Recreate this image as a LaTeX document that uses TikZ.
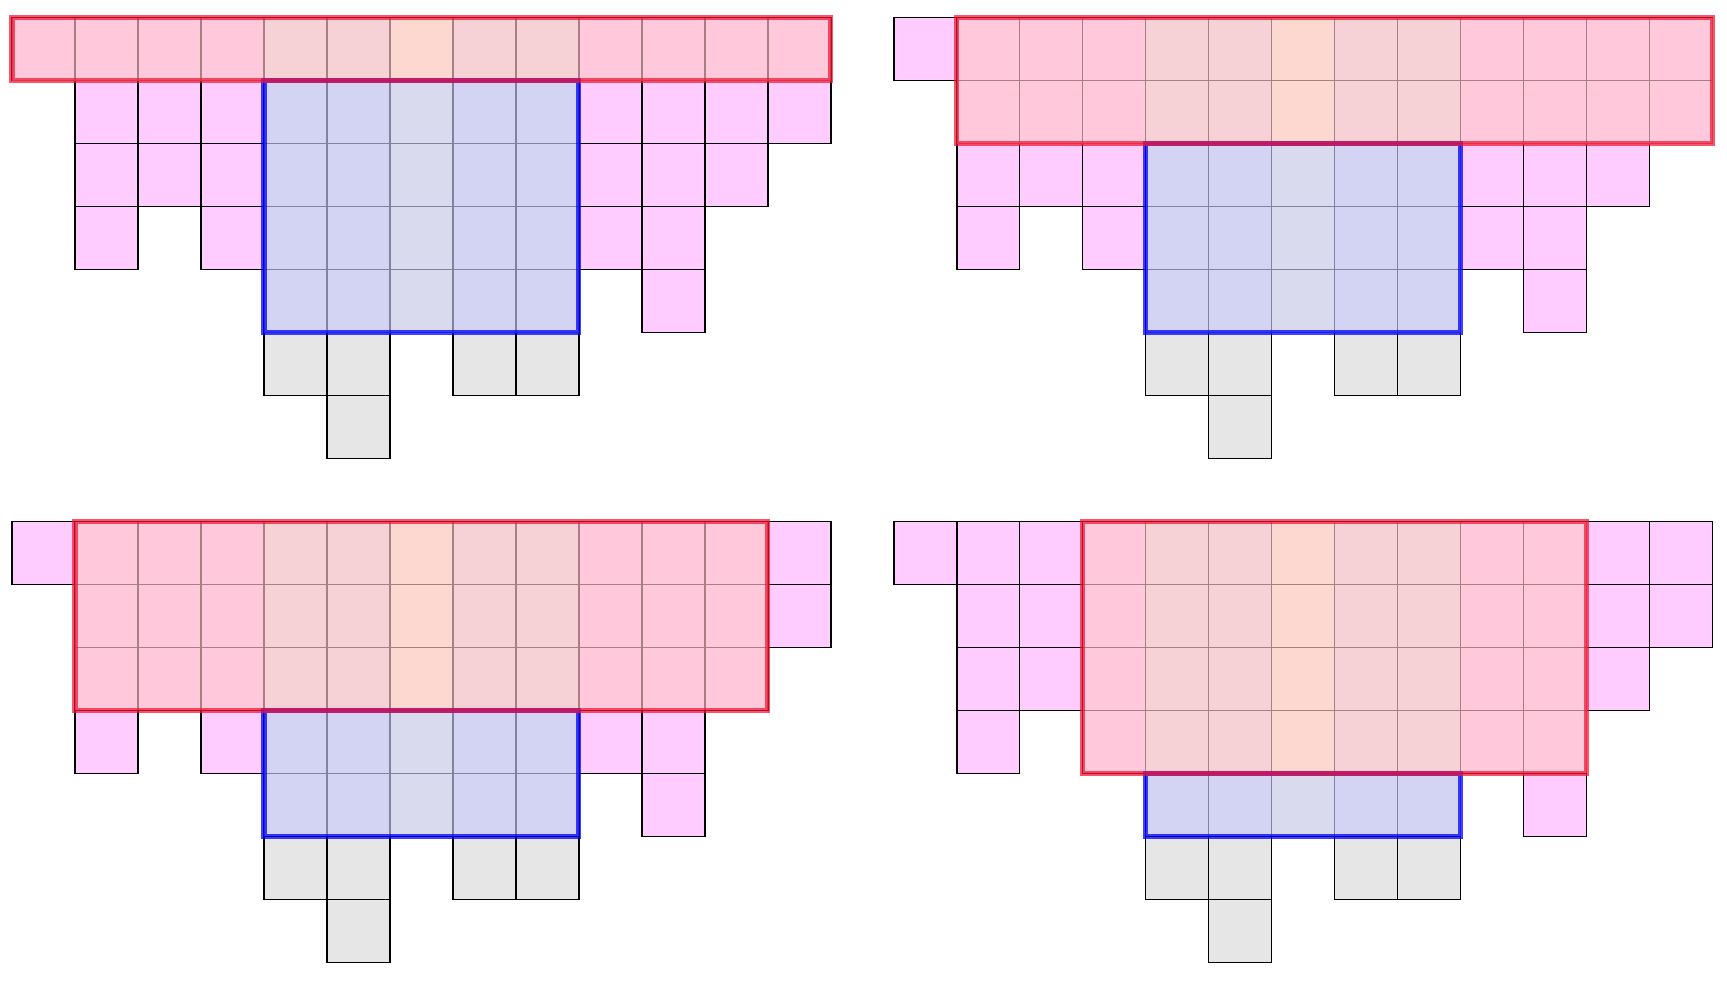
\documentclass[tikz,border=0pt]{standalone}
\usetikzlibrary{positioning}

\definecolor{cellpink}{RGB}{255,204,255}
\definecolor{cellgrey}{RGB}{230,230,230}
\definecolor{cellside}{RGB}{232,235,241}
\definecolor{cellmid}{RGB}{250,252,226}
\definecolor{redtint}{RGB}{255,198,201}
\definecolor{bluetint}{RGB}{201,200,246}
\definecolor{redline}{RGB}{245,20,50}

\tikzset{
        cell/.style={draw=black, line width=0.7pt},
        redbox/.style={draw=redline, draw opacity=0.72, line width=2.4pt},
        bluebox/.style={draw=blue, draw opacity=0.75, line width=2.4pt},
}

% #1,#2: shift, #3..#4: columns of the red block, #5: its rows
\newcommand{\youngpanel}[5]{%
  \begin{scope}[shift={(#1,#2)}]
        % side cells, row by row
        \foreach \r/\cols in {0/{0,1,2,3,9,10,11,12}, 1/{1,2,3,9,10,11,12},
                              2/{1,2,3,9,10,11}, 3/{1,3,9,10}, 4/{10}}
                \foreach \c in \cols
                        \draw[cell, fill=cellpink] (\c, -\r) rectangle ++(1, -1);
        % core block
        \foreach \r in {0,...,4} {
                \foreach \c in {4,5,7,8}
                        \draw[cell, fill=cellside] (\c, -\r) rectangle ++(1, -1);
                \draw[cell, fill=cellmid] (6, -\r) rectangle ++(1, -1);
        }
        % grey tail
        \foreach \r/\c in {5/4, 5/5, 5/7, 5/8, 6/5}
                \draw[cell, fill=cellgrey] (\c, -\r) rectangle ++(1, -1);

        \fill[bluetint, fill opacity=0.65] (4, -#5) rectangle (9, -5);
        \fill[redtint, fill opacity=0.65] (#3, 0) rectangle (#4, -#5);
        \draw[bluebox] (4, -#5) rectangle (9, -5);
        \draw[redbox] (#3, 0) rectangle (#4, -#5);
  \end{scope}%
}

\begin{document}
\begin{tikzpicture}
        \useasboundingbox (-0.19, 0.28) rectangle (27.23, -15.31);
        \youngpanel{0}{0}{0}{13}{1}
        \youngpanel{14}{0}{1}{13}{2}
        \youngpanel{0}{-8}{1}{12}{3}
        \youngpanel{14}{-8}{3}{11}{4}
\end{tikzpicture}
\end{document}
